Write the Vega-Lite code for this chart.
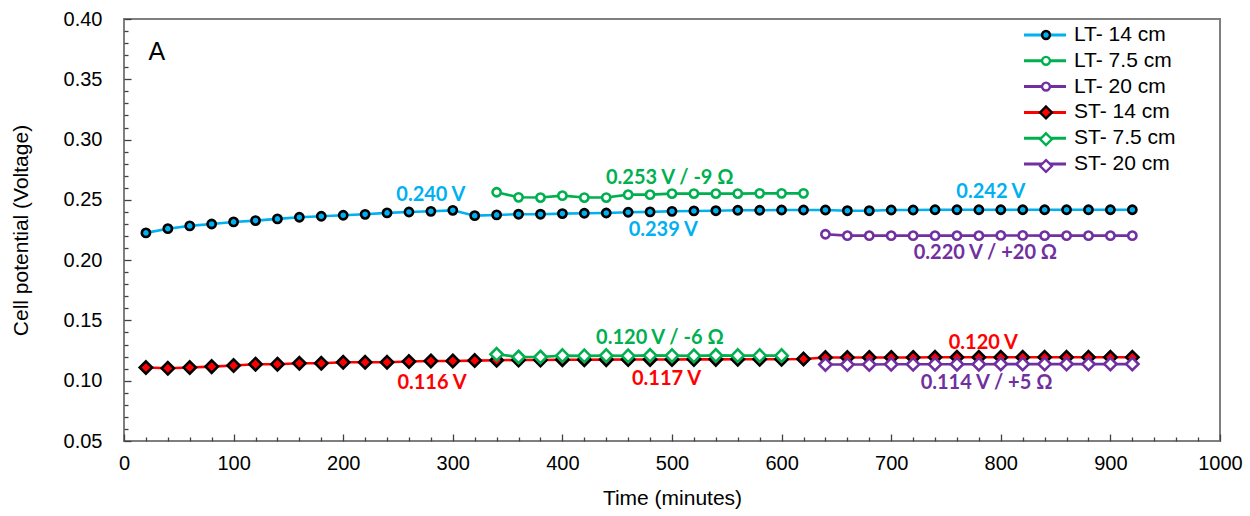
{
  "$schema": "https://vega.github.io/schema/vega-lite/v6.json",
  "width": 1096,
  "height": 422,
  "autosize": {"type": "none"},
  "padding": {"left": 124, "top": 19, "right": 30, "bottom": 75},
  "background": "white",
  "config": {
    "view": {"stroke": "#7f7f7f", "strokeWidth": 2},
    "font": "Liberation Sans",
    "axis": {"labelFont": "Liberation Sans", "titleFont": "Liberation Sans", "labelColor": "#000", "titleColor": "#000", "titleFontWeight": "normal", "grid": false, "domain": false, "tickColor": "#404040", "tickWidth": 1.3, "zindex": 1}
  },
  "datasets": {
    "series": [
      {"series": "LT- 14 cm", "t": 20, "v": 0.2226}, {"series": "LT- 14 cm", "t": 40, "v": 0.2261}, {"series": "LT- 14 cm", "t": 60, "v": 0.2284}, {"series": "LT- 14 cm", "t": 80, "v": 0.2300}, {"series": "LT- 14 cm", "t": 100, "v": 0.2317}, {"series": "LT- 14 cm", "t": 120, "v": 0.2328}, {"series": "LT- 14 cm", "t": 140, "v": 0.2342}, {"series": "LT- 14 cm", "t": 160, "v": 0.2356}, {"series": "LT- 14 cm", "t": 180, "v": 0.2364}, {"series": "LT- 14 cm", "t": 200, "v": 0.2372}, {"series": "LT- 14 cm", "t": 220, "v": 0.2380}, {"series": "LT- 14 cm", "t": 240, "v": 0.2392}, {"series": "LT- 14 cm", "t": 260, "v": 0.2399}, {"series": "LT- 14 cm", "t": 280, "v": 0.2405}, {"series": "LT- 14 cm", "t": 300, "v": 0.2413}, {"series": "LT- 14 cm", "t": 320, "v": 0.2369}, {"series": "LT- 14 cm", "t": 340, "v": 0.2375}, {"series": "LT- 14 cm", "t": 360, "v": 0.2381}, {"series": "LT- 14 cm", "t": 380, "v": 0.2381}, {"series": "LT- 14 cm", "t": 400, "v": 0.2386}, {"series": "LT- 14 cm", "t": 420, "v": 0.2389}, {"series": "LT- 14 cm", "t": 440, "v": 0.2391}, {"series": "LT- 14 cm", "t": 460, "v": 0.2397}, {"series": "LT- 14 cm", "t": 480, "v": 0.2400}, {"series": "LT- 14 cm", "t": 500, "v": 0.2405}, {"series": "LT- 14 cm", "t": 520, "v": 0.2408}, {"series": "LT- 14 cm", "t": 540, "v": 0.2410}, {"series": "LT- 14 cm", "t": 560, "v": 0.2414}, {"series": "LT- 14 cm", "t": 580, "v": 0.2414}, {"series": "LT- 14 cm", "t": 600, "v": 0.2416}, {"series": "LT- 14 cm", "t": 620, "v": 0.2416}, {"series": "LT- 14 cm", "t": 640, "v": 0.2416}, {"series": "LT- 14 cm", "t": 660, "v": 0.2410}, {"series": "LT- 14 cm", "t": 680, "v": 0.2410}, {"series": "LT- 14 cm", "t": 700, "v": 0.2416}, {"series": "LT- 14 cm", "t": 720, "v": 0.2416}, {"series": "LT- 14 cm", "t": 740, "v": 0.2418}, {"series": "LT- 14 cm", "t": 760, "v": 0.2418}, {"series": "LT- 14 cm", "t": 780, "v": 0.2418}, {"series": "LT- 14 cm", "t": 800, "v": 0.2418}, {"series": "LT- 14 cm", "t": 820, "v": 0.2418}, {"series": "LT- 14 cm", "t": 840, "v": 0.2418}, {"series": "LT- 14 cm", "t": 860, "v": 0.2418}, {"series": "LT- 14 cm", "t": 880, "v": 0.2418}, {"series": "LT- 14 cm", "t": 900, "v": 0.2418}, {"series": "LT- 14 cm", "t": 920, "v": 0.2418},
      {"series": "LT- 7.5 cm", "t": 340, "v": 0.2563}, {"series": "LT- 7.5 cm", "t": 360, "v": 0.2521}, {"series": "LT- 7.5 cm", "t": 380, "v": 0.2519}, {"series": "LT- 7.5 cm", "t": 400, "v": 0.2535}, {"series": "LT- 7.5 cm", "t": 420, "v": 0.2519}, {"series": "LT- 7.5 cm", "t": 440, "v": 0.2519}, {"series": "LT- 7.5 cm", "t": 460, "v": 0.2543}, {"series": "LT- 7.5 cm", "t": 480, "v": 0.2543}, {"series": "LT- 7.5 cm", "t": 500, "v": 0.2552}, {"series": "LT- 7.5 cm", "t": 520, "v": 0.2552}, {"series": "LT- 7.5 cm", "t": 540, "v": 0.2552}, {"series": "LT- 7.5 cm", "t": 560, "v": 0.2552}, {"series": "LT- 7.5 cm", "t": 580, "v": 0.2554}, {"series": "LT- 7.5 cm", "t": 600, "v": 0.2554}, {"series": "LT- 7.5 cm", "t": 620, "v": 0.2554},
      {"series": "LT- 20 cm", "t": 640, "v": 0.2215}, {"series": "LT- 20 cm", "t": 660, "v": 0.2203}, {"series": "LT- 20 cm", "t": 680, "v": 0.2203}, {"series": "LT- 20 cm", "t": 700, "v": 0.2203}, {"series": "LT- 20 cm", "t": 720, "v": 0.2203}, {"series": "LT- 20 cm", "t": 740, "v": 0.2203}, {"series": "LT- 20 cm", "t": 760, "v": 0.2203}, {"series": "LT- 20 cm", "t": 780, "v": 0.2203}, {"series": "LT- 20 cm", "t": 800, "v": 0.2205}, {"series": "LT- 20 cm", "t": 820, "v": 0.2205}, {"series": "LT- 20 cm", "t": 840, "v": 0.2203}, {"series": "LT- 20 cm", "t": 860, "v": 0.2203}, {"series": "LT- 20 cm", "t": 880, "v": 0.2203}, {"series": "LT- 20 cm", "t": 900, "v": 0.2203}, {"series": "LT- 20 cm", "t": 920, "v": 0.2203},
      {"series": "ST- 14 cm", "t": 20, "v": 0.1109}, {"series": "ST- 14 cm", "t": 40, "v": 0.1103}, {"series": "ST- 14 cm", "t": 60, "v": 0.1109}, {"series": "ST- 14 cm", "t": 80, "v": 0.1117}, {"series": "ST- 14 cm", "t": 100, "v": 0.1126}, {"series": "ST- 14 cm", "t": 120, "v": 0.1137}, {"series": "ST- 14 cm", "t": 140, "v": 0.1137}, {"series": "ST- 14 cm", "t": 160, "v": 0.1145}, {"series": "ST- 14 cm", "t": 180, "v": 0.1145}, {"series": "ST- 14 cm", "t": 200, "v": 0.1153}, {"series": "ST- 14 cm", "t": 220, "v": 0.1153}, {"series": "ST- 14 cm", "t": 240, "v": 0.1153}, {"series": "ST- 14 cm", "t": 260, "v": 0.1159}, {"series": "ST- 14 cm", "t": 280, "v": 0.1164}, {"series": "ST- 14 cm", "t": 300, "v": 0.1164}, {"series": "ST- 14 cm", "t": 320, "v": 0.1167}, {"series": "ST- 14 cm", "t": 340, "v": 0.1170}, {"series": "ST- 14 cm", "t": 360, "v": 0.1172}, {"series": "ST- 14 cm", "t": 380, "v": 0.1172}, {"series": "ST- 14 cm", "t": 400, "v": 0.1174}, {"series": "ST- 14 cm", "t": 420, "v": 0.1174}, {"series": "ST- 14 cm", "t": 440, "v": 0.1175}, {"series": "ST- 14 cm", "t": 460, "v": 0.1176}, {"series": "ST- 14 cm", "t": 480, "v": 0.1176}, {"series": "ST- 14 cm", "t": 500, "v": 0.1176}, {"series": "ST- 14 cm", "t": 520, "v": 0.1177}, {"series": "ST- 14 cm", "t": 540, "v": 0.1177}, {"series": "ST- 14 cm", "t": 560, "v": 0.1178}, {"series": "ST- 14 cm", "t": 580, "v": 0.1178}, {"series": "ST- 14 cm", "t": 600, "v": 0.1178}, {"series": "ST- 14 cm", "t": 620, "v": 0.1180}, {"series": "ST- 14 cm", "t": 640, "v": 0.1192}, {"series": "ST- 14 cm", "t": 660, "v": 0.1192}, {"series": "ST- 14 cm", "t": 680, "v": 0.1193}, {"series": "ST- 14 cm", "t": 700, "v": 0.1193}, {"series": "ST- 14 cm", "t": 720, "v": 0.1193}, {"series": "ST- 14 cm", "t": 740, "v": 0.1194}, {"series": "ST- 14 cm", "t": 760, "v": 0.1194}, {"series": "ST- 14 cm", "t": 780, "v": 0.1194}, {"series": "ST- 14 cm", "t": 800, "v": 0.1194}, {"series": "ST- 14 cm", "t": 820, "v": 0.1194}, {"series": "ST- 14 cm", "t": 840, "v": 0.1194}, {"series": "ST- 14 cm", "t": 860, "v": 0.1194}, {"series": "ST- 14 cm", "t": 880, "v": 0.1194}, {"series": "ST- 14 cm", "t": 900, "v": 0.1194}, {"series": "ST- 14 cm", "t": 920, "v": 0.1194},
      {"series": "ST- 7.5 cm", "t": 340, "v": 0.1219}, {"series": "ST- 7.5 cm", "t": 360, "v": 0.1197}, {"series": "ST- 7.5 cm", "t": 380, "v": 0.1197}, {"series": "ST- 7.5 cm", "t": 400, "v": 0.1208}, {"series": "ST- 7.5 cm", "t": 420, "v": 0.1206}, {"series": "ST- 7.5 cm", "t": 440, "v": 0.1208}, {"series": "ST- 7.5 cm", "t": 460, "v": 0.1206}, {"series": "ST- 7.5 cm", "t": 480, "v": 0.1210}, {"series": "ST- 7.5 cm", "t": 500, "v": 0.1208}, {"series": "ST- 7.5 cm", "t": 520, "v": 0.1206}, {"series": "ST- 7.5 cm", "t": 540, "v": 0.1210}, {"series": "ST- 7.5 cm", "t": 560, "v": 0.1208}, {"series": "ST- 7.5 cm", "t": 580, "v": 0.1208}, {"series": "ST- 7.5 cm", "t": 600, "v": 0.1208},
      {"series": "ST- 20 cm", "t": 640, "v": 0.1134}, {"series": "ST- 20 cm", "t": 660, "v": 0.1134}, {"series": "ST- 20 cm", "t": 680, "v": 0.1135}, {"series": "ST- 20 cm", "t": 700, "v": 0.1136}, {"series": "ST- 20 cm", "t": 720, "v": 0.1136}, {"series": "ST- 20 cm", "t": 740, "v": 0.1137}, {"series": "ST- 20 cm", "t": 760, "v": 0.1137}, {"series": "ST- 20 cm", "t": 780, "v": 0.1137}, {"series": "ST- 20 cm", "t": 800, "v": 0.1138}, {"series": "ST- 20 cm", "t": 820, "v": 0.1138}, {"series": "ST- 20 cm", "t": 840, "v": 0.1138}, {"series": "ST- 20 cm", "t": 860, "v": 0.1138}, {"series": "ST- 20 cm", "t": 880, "v": 0.1138}, {"series": "ST- 20 cm", "t": 900, "v": 0.1138}, {"series": "ST- 20 cm", "t": 920, "v": 0.1138}
    ],
    "notes": [
      {"series": "LT- 14 cm", "t": 280, "v": 0.2541, "label": "0.240 V"},
      {"series": "LT- 14 cm", "t": 492, "v": 0.2250, "label": "0.239 V"},
      {"series": "LT- 14 cm", "t": 791, "v": 0.2566, "label": "0.242 V"},
      {"series": "LT- 7.5 cm", "t": 498, "v": 0.2684, "label": "0.253 V / -9 Ω"},
      {"series": "LT- 20 cm", "t": 786, "v": 0.2060, "label": "0.220 V / +20 Ω"},
      {"series": "ST- 7.5 cm", "t": 489, "v": 0.1355, "label": "0.120 V / -6 Ω"},
      {"series": "ST- 14 cm", "t": 281, "v": 0.0982, "label": "0.116 V"},
      {"series": "ST- 14 cm", "t": 495, "v": 0.1015, "label": "0.117 V"},
      {"series": "ST- 14 cm", "t": 784, "v": 0.1313, "label": "0.120 V"},
      {"series": "ST- 20 cm", "t": 787, "v": 0.0982, "label": "0.114 V / +5 Ω"}
    ],
    "panel": [
      {"t": 30, "v": 0.3726, "label": "A"}
    ]
  },
  "layer": [
    {
      "data": {"name": "series"},
      "mark": {"type": "line", "strokeWidth": 2.6},
      "encoding": {
        "x": {"field": "t", "type": "quantitative", "scale": {"domain": [0, 1000], "nice": false},
          "axis": {"orient": "bottom", "values": [0, 100, 200, 300, 400, 500, 600, 700, 800, 900, 1000], "format": "d", "offset": -7, "tickSize": 7, "labelPadding": 12, "labelFontSize": 20, "labelFlush": false, "title": "Time (minutes)", "titleFontSize": 21, "titlePadding": 14}},
        "y": {"field": "v", "type": "quantitative", "scale": {"domain": [0.05, 0.4], "nice": false, "zero": false},
          "axis": {"orient": "left", "values": [0.05, 0.1, 0.15, 0.2, 0.25, 0.3, 0.35, 0.4], "format": ".2f", "offset": -7, "tickSize": 7, "labelPadding": 22, "labelFontSize": 20, "labelFlush": false, "title": "Cell potential (Voltage)", "titleFontSize": 21, "titlePadding": 32}},
        "color": {"field": "series", "type": "nominal",
          "scale": {"domain": ["LT- 14 cm", "LT- 7.5 cm", "LT- 20 cm", "ST- 14 cm", "ST- 7.5 cm", "ST- 20 cm"], "range": ["#00B0F0", "#00B050", "#7030A0", "#FF0000", "#00B050", "#7030A0"]},
          "legend": {"orient": "none", "legendX": 910.5, "legendY": 5.5, "title": null, "padding": 0, "symbolType": "M-4.2,0H4.2", "symbolSize": 100, "symbolStrokeWidth": 3, "labelFontSize": 21, "labelFont": "Liberation Sans", "labelColor": "#000", "labelOffset": 18.5, "rowPadding": 3.8, "zindex": 0, "labelLimit": 300}}
      }
    },
    {
      "data": {"name": "series"},
      "mark": {"type": "point", "filled": true, "opacity": 1, "size": 68, "strokeWidth": 2.6},
      "encoding": {
        "x": {"field": "t", "type": "quantitative", "axis": null},
        "y": {"field": "v", "type": "quantitative", "axis": null},
        "shape": {"field": "series", "type": "nominal", "sort": ["LT- 14 cm", "LT- 7.5 cm", "LT- 20 cm", "ST- 14 cm", "ST- 7.5 cm", "ST- 20 cm"],
          "scale": {"range": ["circle", "circle", "circle", "M0,-1.5L1.5,0L0,1.5L-1.5,0Z", "M0,-1.5L1.5,0L0,1.5L-1.5,0Z", "M0,-1.5L1.5,0L0,1.5L-1.5,0Z"]},
          "legend": {"orient": "none", "legendX": 911.5, "legendY": 5.5, "title": null, "padding": 0, "symbolSize": 62, "symbolStrokeWidth": 2.4, "labelExpr": "''", "labelFontSize": 21, "labelOffset": 3, "rowPadding": 3.8, "zindex": 1,
            "encoding": {"symbols": {"fill": {"value": {"expr": "scale('fill', datum.value)"}}, "stroke": {"value": {"expr": "scale('stroke', datum.value)"}}, "strokeWidth": {"value": 2.4}, "opacity": {"value": 1}}}}},
        "fill": {"field": "series", "type": "nominal", "sort": ["LT- 14 cm", "LT- 7.5 cm", "LT- 20 cm", "ST- 14 cm", "ST- 7.5 cm", "ST- 20 cm"],
          "scale": {"range": ["#00B0F0", "#ffffff", "#ffffff", "#FF0000", "#ffffff", "#ffffff"]}, "legend": null},
        "stroke": {"field": "series", "type": "nominal", "sort": ["LT- 14 cm", "LT- 7.5 cm", "LT- 20 cm", "ST- 14 cm", "ST- 7.5 cm", "ST- 20 cm"],
          "scale": {"range": ["#000000", "#00B050", "#7030A0", "#000000", "#00B050", "#7030A0"]}, "legend": null}
      }
    },
    {
      "data": {"name": "notes"},
      "mark": {"type": "text", "font": "Lato", "fontWeight": "bold", "fontSize": 20, "align": "center", "baseline": "middle"},
      "encoding": {
        "x": {"field": "t", "type": "quantitative", "axis": null},
        "y": {"field": "v", "type": "quantitative", "axis": null},
        "text": {"field": "label"},
        "color": {"field": "series", "type": "nominal", "legend": null}
      }
    },
    {
      "data": {"name": "panel"},
      "mark": {"type": "text", "font": "Liberation Sans", "fontSize": 25, "align": "center", "baseline": "middle", "color": "#000"},
      "encoding": {
        "x": {"field": "t", "type": "quantitative",
          "axis": {"orient": "bottom", "values": [20, 40, 60, 80, 120, 140, 160, 180, 220, 240, 260, 280, 320, 340, 360, 380, 420, 440, 460, 480, 520, 540, 560, 580, 620, 640, 660, 680, 720, 740, 760, 780, 820, 840, 860, 880, 920, 940, 960, 980], "labels": false, "domain": false, "offset": -4, "tickSize": 4, "title": null}},
        "y": {"field": "v", "type": "quantitative",
          "axis": {"orient": "left", "values": [0.06, 0.07, 0.08, 0.09, 0.11, 0.12, 0.13, 0.14, 0.16, 0.17, 0.18, 0.19, 0.21, 0.22, 0.23, 0.24, 0.26, 0.27, 0.28, 0.29, 0.31, 0.32, 0.33, 0.34, 0.36, 0.37, 0.38, 0.39], "labels": false, "domain": false, "offset": -4, "tickSize": 4, "title": null}},
        "text": {"field": "label"}
      }
    }
  ],
  "resolve": {"axis": {"x": "independent", "y": "independent"}}
}
